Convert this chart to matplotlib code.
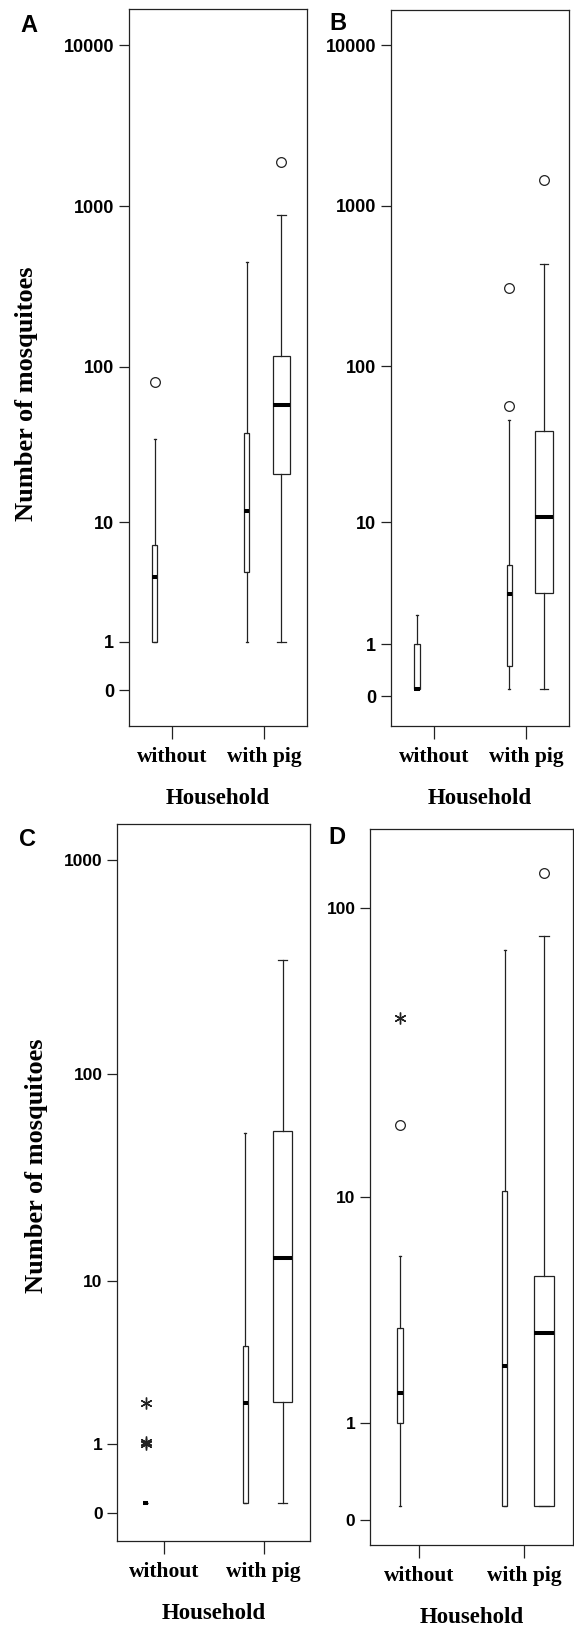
import numpy as np
import matplotlib
matplotlib.use("Agg")
import matplotlib.pyplot as plt

categories = ["without", "with pig"]

# box summaries: [whislo, q1, median, q3, whishi]
# series 0 = narrow box, series 1 = wide box
a_without = [1, 1, 4.0, 7.0, 35]
a_without_out = [80]
a_pig_narrow = [1, 4.4, 11.9, 38.4, 450]
a_pig_wide = [1, 21, 57.5, 117, 880]
a_pig_wide_out = [1890]

b_without = [0.1, 0.1, 0.1, 1.0, 2.0]
b_pig_narrow = [0.1, 0.5, 3.0, 5.0, 46]
b_pig_narrow_out = [56, 311]
b_pig_wide = [0.1, 3.05, 10.9, 39, 434]
b_pig_wide_out = [1460]

c_without = [0.1, 0.1, 0.1, 0.1, 0.1]
c_without_ext = [1.0, 1.03, 2.05]
c_pig_narrow = [0.1, 0.1, 2.05, 4.54, 52.6]
c_pig_wide = [0.1, 2.06, 13.1, 53.6, 341]

d_without = [0.1, 1.0, 1.5, 3.05, 6.0]
d_without_out = [18]
d_without_ext = [42.3]
d_pig_narrow = [0.1, 0.1, 2.05, 10.5, 72.3]
d_pig_wide = [0.1, 0.1, 2.9, 5.0, 80.8]
d_pig_wide_out = [132]

SERIES_OFFSET = [-0.185, 0.19]
SERIES_WIDTH = [0.055, 0.19]
CAP_WIDTH = [0.02, 0.095]

SERIF = ["Liberation Serif", "DejaVu Serif"]
SANS = ["Liberation Sans", "DejaVu Sans"]
W, H = 574, 1627


def make_axes(fig, left, top, right, bottom):
    return fig.add_axes([left / W, 1 - bottom / H, (right - left) / W, (bottom - top) / H])


def draw_panel(ax, boxes, extremes, shift, ylim, yticks, tick_fs):
    fwd = lambda v: np.log10(np.clip(np.asarray(v, dtype=float) + shift, 1e-9, None))
    inv = lambda t: 10 ** np.asarray(t, dtype=float) - shift
    ax.set_yscale("function", functions=(fwd, inv))

    stats, pos, wid, capw = [], [], [], []
    for cat, ser, s, out in boxes:
        stats.append(dict(whislo=s[0], q1=s[1], med=s[2], q3=s[3], whishi=s[4], fliers=out))
        pos.append(cat + 1 + SERIES_OFFSET[ser])
        wid.append(SERIES_WIDTH[ser])
        capw.append(CAP_WIDTH[ser])
    ax.bxp(stats, positions=pos, widths=wid, capwidths=capw, patch_artist=True,
           boxprops=dict(facecolor="white", edgecolor="#222222", linewidth=0.9),
           whiskerprops=dict(color="#222222", linewidth=0.9),
           capprops=dict(color="#222222", linewidth=0.9),
           medianprops=dict(color="black", linewidth=2.9, solid_capstyle="butt"),
           flierprops=dict(marker="o", markersize=7, markerfacecolor="none",
                           markeredgecolor="#222222", markeredgewidth=0.9, linestyle="none"),
           manage_ticks=False)
    for cat, ser, vals in extremes:
        ax.plot([cat + 1 + SERIES_OFFSET[ser]] * len(vals), vals, linestyle="none",
                marker=(6, 2, 0), markersize=8.5, markeredgewidth=1.0, color="#222222")

    ax.set_xlim(0.53, 2.465)
    ax.set_ylim(*ylim)
    ax.set_yticks(yticks)
    ax.set_yticklabels([str(t) for t in yticks], fontsize=tick_fs, fontweight="bold", family=SANS)
    ax.yaxis.set_minor_locator(matplotlib.ticker.NullLocator())
    ax.set_xticks([1, 2])
    ax.set_xticklabels(categories, fontsize=15.5, fontweight="bold", family=SERIF)
    ax.tick_params(axis="y", direction="out", length=7, width=0.9, pad=3.5, color="#222222")
    ax.tick_params(axis="x", direction="out", length=9, width=0.9, pad=6, color="#222222")
    for sp in ax.spines.values():
        sp.set_linewidth(0.9)
        sp.set_color("#222222")
    ax.set_xlabel("Household", fontsize=16.5, fontweight="bold", family=SERIF)
    ax.xaxis.set_label_coords(0.5, -0.0866)


fig = plt.figure(figsize=(W / 100, H / 100), dpi=100)

ax_a = make_axes(fig, 128.5, 9.3, 306.7, 726)
draw_panel(ax_a,
           [(0, 0, a_without, a_without_out), (1, 0, a_pig_narrow, []), (1, 1, a_pig_wide, a_pig_wide_out)],
           [], 1.0, (-0.40, 16650), [0, 1, 10, 100, 1000, 10000], 13)

ax_b = make_axes(fig, 390.7, 10, 569.3, 726)
draw_panel(ax_b,
           [(0, 0, b_without, []), (1, 0, b_pig_narrow, b_pig_narrow_out), (1, 1, b_pig_wide, b_pig_wide_out)],
           [], 0.9, (-0.31, 16500), [0, 1, 10, 100, 1000, 10000], 13)

ax_c = make_axes(fig, 117.3, 824, 310, 1540.7)
draw_panel(ax_c,
           [(0, 0, c_without, []), (1, 0, c_pig_narrow, []), (1, 1, c_pig_wide, [])],
           [(0, 0, c_without_ext)], 0.9, (-0.23, 1470), [0, 1, 10, 100, 1000], 12.5)

ax_d = make_axes(fig, 370, 829.3, 572.7, 1545)
draw_panel(ax_d,
           [(0, 0, d_without, d_without_out), (1, 0, d_pig_narrow, []), (1, 1, d_pig_wide, d_pig_wide_out)],
           [(0, 0, d_without_ext)], 0.9, (-0.16, 185), [0, 1, 10, 100], 12.5)

# panel letters and shared y labels
for letter, x, y in [("A", 29, 25), ("B", 338, 24), ("C", 28, 840), ("D", 337, 838)]:
    fig.text(x / W, 1 - y / H, letter, fontsize=17, fontweight="bold", family=SANS,
             ha="center", va="center")
for x, y in [(27, 394), (37, 1166)]:
    fig.text(x / W, 1 - y / H, "Number of mosquitoes", fontsize=19, fontweight="bold",
             family=SERIF, rotation=90, ha="center", va="center")

fig.savefig("out.png", dpi=100)
